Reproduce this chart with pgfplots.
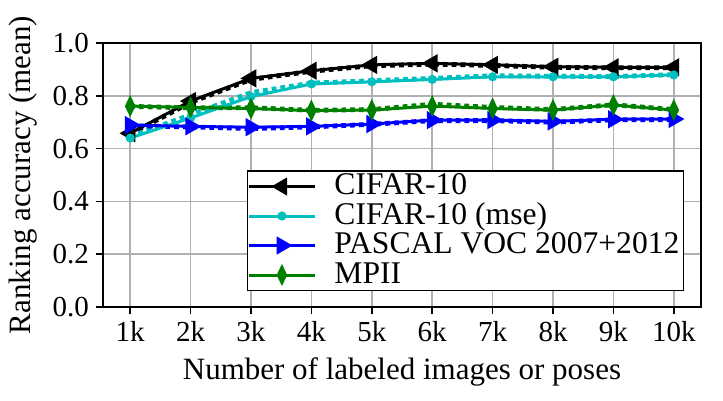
\documentclass[border=0pt]{standalone}
\usepackage{fontspec}
\setmainfont{Liberation Serif}
\usepackage{pgfplots}
\pgfplotsset{compat=1.18}

\definecolor{mplcyan}{rgb}{0,0.75,0.75}
\definecolor{mplgreen}{rgb}{0,0.5,0}
\definecolor{gridgray}{HTML}{B0B0B0}

\begin{document}
\begin{tikzpicture}
\begin{axis}[
    scale only axis,
    width=299pt, height=132pt,
    xmin=0.55, xmax=10.45,
    ymin=0, ymax=1.0,
    xtick={1,...,10},
    xticklabels={\textrm{1k},\textrm{2k},\textrm{3k},\textrm{4k},\textrm{5k},\textrm{6k},\textrm{7k},\textrm{8k},\textrm{9k},\textrm{10k}},
    ytick={0,0.2,0.4,0.6,0.8,1.0},
    yticklabels={\textrm{0.0},\textrm{0.2},\textrm{0.4},\textrm{0.6},\textrm{0.8},\textrm{1.0}},
    tick label style={font=\fontsize{14.5}{16}\selectfont},
    label style={font=\fontsize{15.5}{17}\selectfont},
    xlabel={Number of labeled images or poses},
    ylabel={Ranking accuracy (mean)},
    xlabel style={yshift=-1pt},
    ylabel style={yshift=1pt},
    grid=major,
    major grid style={gridgray, line width=0.8pt},
    tick align=outside,
    tick pos=left,
    major tick length=3.5pt,
    axis line style={line width=0.8pt},
    every tick/.style={black, line width=0.8pt},
    legend style={
        at={(0.972,0.06)}, anchor=south east,
        font=\fontsize{15.8}{17}\selectfont,
        draw=black, line width=0.8pt,
        inner xsep=0pt, inner ysep=0.3pt,
        row sep=0pt,
        nodes={text height=11.5pt, text depth=3.25pt, inner ysep=0pt},
        /tikz/every odd column/.append style={column sep=7pt},
        legend cell align=left,
    },
    legend image code/.code={
        \draw[#1] (0pt,0pt) -- (16.5pt,0pt);
        \draw[#1, mark repeat=2, mark phase=2] plot coordinates {(0pt,0pt) (16.5pt,0pt) (33pt,0pt)};
        \draw[#1, mark=none] (16.5pt,0pt) -- (33pt,0pt);
    },
]

% dotted variants (not in legend)
\addplot[black, dotted, line width=2.4pt, forget plot] coordinates {
    (1,0.655) (2,0.775) (3,0.862) (4,0.893) (5,0.914) (6,0.920) (7,0.915) (8,0.908) (9,0.906) (10,0.906)
};
\addplot[mplcyan, dotted, line width=2.4pt, forget plot] coordinates {
    (1,0.645) (2,0.728) (3,0.812) (4,0.848) (5,0.857) (6,0.866) (7,0.876) (8,0.874) (9,0.873) (10,0.880)
};
\addplot[blue, dotted, line width=2.4pt, forget plot] coordinates {
    (1,0.686) (2,0.682) (3,0.676) (4,0.682) (5,0.692) (6,0.706) (7,0.706) (8,0.700) (9,0.709) (10,0.710)
};
\addplot[mplgreen, dotted, line width=2.4pt, forget plot] coordinates {
    (1,0.760) (2,0.754) (3,0.755) (4,0.745) (5,0.748) (6,0.768) (7,0.756) (8,0.748) (9,0.766) (10,0.748)
};

% solid series
\addplot[black, line width=1.5pt, mark=triangle*, mark options={rotate=90, scale=1.9, solid}] coordinates {
    (1,0.658) (2,0.780) (3,0.866) (4,0.895) (5,0.917) (6,0.923) (7,0.917) (8,0.910) (9,0.908) (10,0.908)
};
\addlegendentry{CIFAR-10}

\addplot[mplcyan, line width=1.5pt, mark=*, mark options={scale=0.75, solid}] coordinates {
    (1,0.640) (2,0.716) (3,0.797) (4,0.845) (5,0.853) (6,0.862) (7,0.872) (8,0.872) (9,0.872) (10,0.879)
};
\addlegendentry{CIFAR-10 (mse)}

\addplot[blue, line width=1.5pt, mark=triangle*, mark options={rotate=-90, scale=1.9, solid}] coordinates {
    (1,0.689) (2,0.684) (3,0.681) (4,0.684) (5,0.693) (6,0.708) (7,0.708) (8,0.703) (9,0.711) (10,0.712)
};
\addlegendentry{PASCAL VOC 2007+2012}

\addplot[mplgreen, line width=1.5pt, mark=diamond*, mark options={xscale=1.2, yscale=1.9, solid}] coordinates {
    (1,0.761) (2,0.756) (3,0.752) (4,0.744) (5,0.746) (6,0.761) (7,0.752) (8,0.746) (9,0.765) (10,0.746)
};
\addlegendentry{MPII}

\end{axis}
\pgfresetboundingbox
\path[use as bounding box] ([shift={(-51.5pt,-47pt)}]current axis.south west) rectangle ([shift={(11pt,21.5pt)}]current axis.north east);
\end{tikzpicture}
\end{document}
